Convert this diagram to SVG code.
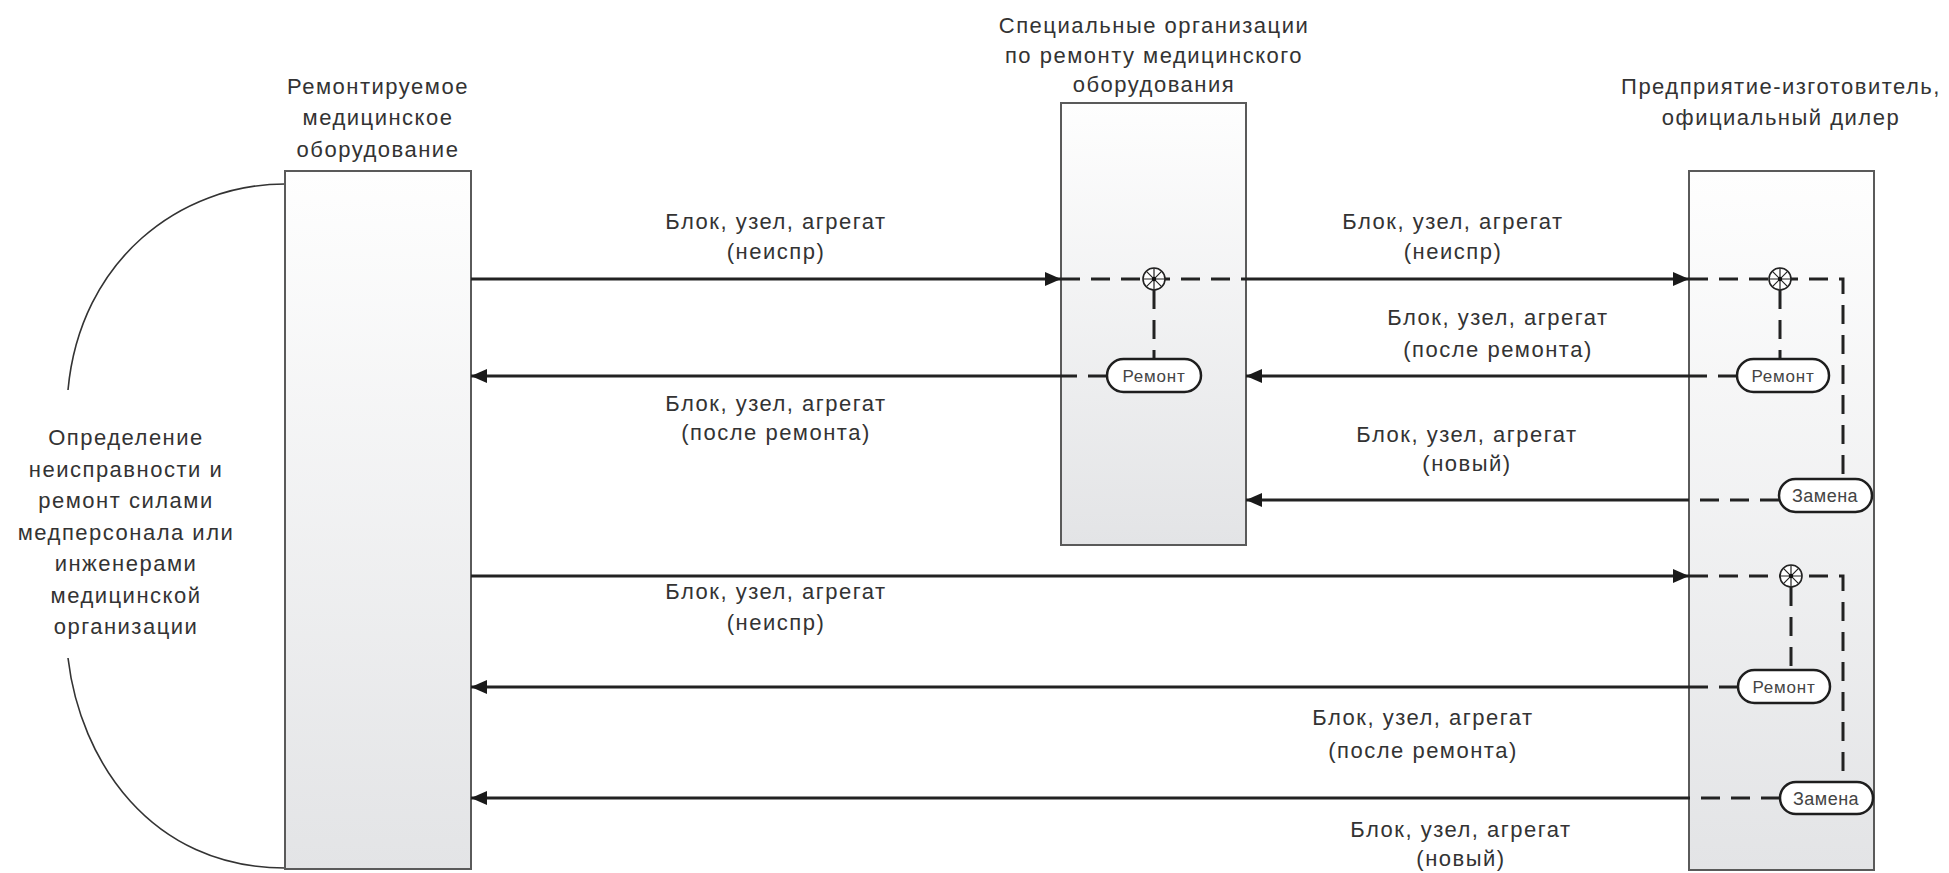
<svg xmlns="http://www.w3.org/2000/svg" width="1949" height="873" viewBox="0 0 1949 873">
  <style>
    .box { fill: url(#boxFill); stroke: #5a5a5a; stroke-width: 2; }
    .lbl { font-family: "Liberation Sans", Arial, sans-serif; font-size: 22px; letter-spacing: 1.5px; fill: #333; text-anchor: middle; }
    .pill rect { fill: #fff; stroke: #1e1e1e; stroke-width: 2.5; }
    .pill text { font-family: "Liberation Sans", Arial, sans-serif; fill: #444; text-anchor: middle; }
    .flow { fill: none; stroke: #222; stroke-width: 3; }
    .dash { fill: none; stroke: #222; stroke-width: 3; stroke-dasharray: 19 11; }
    .arc { fill: none; stroke: #333; stroke-width: 1.6; }
  </style>
  <defs>
    <linearGradient id="boxFill" x1="0" y1="0" x2="0" y2="1">
      <stop offset="0" stop-color="#fefefe"/>
      <stop offset="1" stop-color="#e3e4e6"/>
    </linearGradient>
    <marker id="head" viewBox="0 0 16 14" refX="16" refY="7" markerWidth="16" markerHeight="14" markerUnits="userSpaceOnUse" orient="auto">
      <path d="M0,0 L16,7 L0,14 Z" fill="#1a1a1a"/>
    </marker>
    <!-- branching point: wheel with eight spokes -->
    <g id="wheel">
      <circle r="11" fill="#fff" stroke="#222" stroke-width="1.6"/>
      <path d="M-11,0 H11 M0,-11 V11 M-7.8,-7.8 L7.8,7.8 M-7.8,7.8 L7.8,-7.8" stroke="#222" stroke-width="1.2"/>
      <circle r="2.2" fill="#111"/>
    </g>
  </defs>

  <!-- loop of in-house repair on the left -->
  <g id="inhouse">
    <path class="arc" d="M285,184 C180,184 80,260 68,390"/>
    <path class="arc" d="M68,658 C80,760 150,868 285,868"/>
    <text class="lbl" x="126" y="445">Определение</text>
    <text class="lbl" x="126" y="477">неисправности и</text>
    <text class="lbl" x="126" y="508">ремонт силами</text>
    <text class="lbl" x="126" y="540">медперсонала или</text>
    <text class="lbl" x="126" y="571">инженерами</text>
    <text class="lbl" x="126" y="603">медицинской</text>
    <text class="lbl" x="126" y="634">организации</text>
  </g>

  <!-- equipment under repair -->
  <g id="equipment">
    <text class="lbl" x="378" y="94">Ремонтируемое</text>
    <text class="lbl" x="378" y="125">медицинское</text>
    <text class="lbl" x="378" y="157">оборудование</text>
    <rect class="box" x="285" y="171" width="186" height="698"/>
  </g>

  <!-- specialised repair organisations -->
  <g id="service">
    <text class="lbl" x="1154" y="33">Специальные организации</text>
    <text class="lbl" x="1154" y="63">по ремонту медицинского</text>
    <text class="lbl" x="1154" y="92">оборудования</text>
    <rect class="box" x="1061" y="103" width="185" height="442"/>
  </g>

  <!-- manufacturer / dealer -->
  <g id="vendor">
    <text class="lbl" x="1781" y="94">Предприятие-изготовитель,</text>
    <text class="lbl" x="1781" y="125">официальный дилер</text>
    <rect class="box" x="1689" y="171" width="185" height="699"/>
  </g>

  <!-- flows between parties -->
  <g id="connectors">
    <path class="flow" d="M471,279 H1061" marker-end="url(#head)"/>
    <path class="flow" d="M1246,279 H1689" marker-end="url(#head)"/>
    <path class="flow" d="M1061,376 H471" marker-end="url(#head)"/>
    <path class="flow" d="M1689,376 H1246" marker-end="url(#head)"/>
    <path class="flow" d="M1689,500 H1246" marker-end="url(#head)"/>
    <path class="flow" d="M471,576 H1689" marker-end="url(#head)"/>
    <path class="flow" d="M1689,687 H471" marker-end="url(#head)"/>
    <path class="flow" d="M1689,798 H471" marker-end="url(#head)"/>

    <!-- routes inside the repair organisation -->
    <path class="dash" d="M1061,279 H1246"/>
    <path class="dash" d="M1154,290 V359"/>
    <path class="dash" d="M1107,376 H1061"/>

    <!-- routes inside the manufacturer, upper case -->
    <path class="dash" d="M1689,279 H1843 V479"/>
    <path class="dash" d="M1780,290 V359"/>
    <path class="dash" d="M1737,376 H1689"/>
    <path class="dash" d="M1779,500 H1689"/>

    <!-- routes inside the manufacturer, lower case -->
    <path class="dash" d="M1689,576 H1843 V782"/>
    <path class="dash" d="M1791,587 V670"/>
    <path class="dash" d="M1738,687 H1689"/>
    <path class="dash" d="M1780,798 H1689"/>

    <use href="#wheel" x="1154" y="279"/>
    <use href="#wheel" x="1780" y="279"/>
    <use href="#wheel" x="1791" y="576"/>
  </g>

  <!-- operation tags -->
  <g id="repair-service" class="pill">
    <rect x="1107" y="359" width="94" height="33" rx="16.5"/>
    <text x="1154" y="382" font-size="17" letter-spacing="0.8">Ремонт</text>
  </g>
  <g id="repair-vendor-1" class="pill">
    <rect x="1737" y="359" width="92" height="33" rx="16.5"/>
    <text x="1783" y="382" font-size="17" letter-spacing="0.8">Ремонт</text>
  </g>
  <g id="replace-vendor-1" class="pill">
    <rect x="1779" y="479" width="93" height="33" rx="16.5"/>
    <text x="1825" y="502" font-size="18" letter-spacing="0.5">Замена</text>
  </g>
  <g id="repair-vendor-2" class="pill">
    <rect x="1738" y="670" width="92" height="33" rx="16.5"/>
    <text x="1784" y="693" font-size="17" letter-spacing="0.8">Ремонт</text>
  </g>
  <g id="replace-vendor-2" class="pill">
    <rect x="1780" y="782" width="93" height="32" rx="16"/>
    <text x="1826" y="805" font-size="18" letter-spacing="0.5">Замена</text>
  </g>

  <!-- flow labels -->
  <g id="flow-labels">
    <text class="lbl" x="776" y="229">Блок, узел, агрегат</text>
    <text class="lbl" x="776" y="259">(неиспр)</text>
    <text class="lbl" x="1453" y="229">Блок, узел, агрегат</text>
    <text class="lbl" x="1453" y="259">(неиспр)</text>
    <text class="lbl" x="776" y="411">Блок, узел, агрегат</text>
    <text class="lbl" x="776" y="440">(после ремонта)</text>
    <text class="lbl" x="1498" y="325">Блок, узел, агрегат</text>
    <text class="lbl" x="1498" y="357">(после ремонта)</text>
    <text class="lbl" x="1467" y="442">Блок, узел, агрегат</text>
    <text class="lbl" x="1467" y="471">(новый)</text>
    <text class="lbl" x="776" y="599">Блок, узел, агрегат</text>
    <text class="lbl" x="776" y="630">(неиспр)</text>
    <text class="lbl" x="1423" y="725">Блок, узел, агрегат</text>
    <text class="lbl" x="1423" y="758">(после ремонта)</text>
    <text class="lbl" x="1461" y="837">Блок, узел, агрегат</text>
    <text class="lbl" x="1461" y="866">(новый)</text>
  </g>
</svg>
